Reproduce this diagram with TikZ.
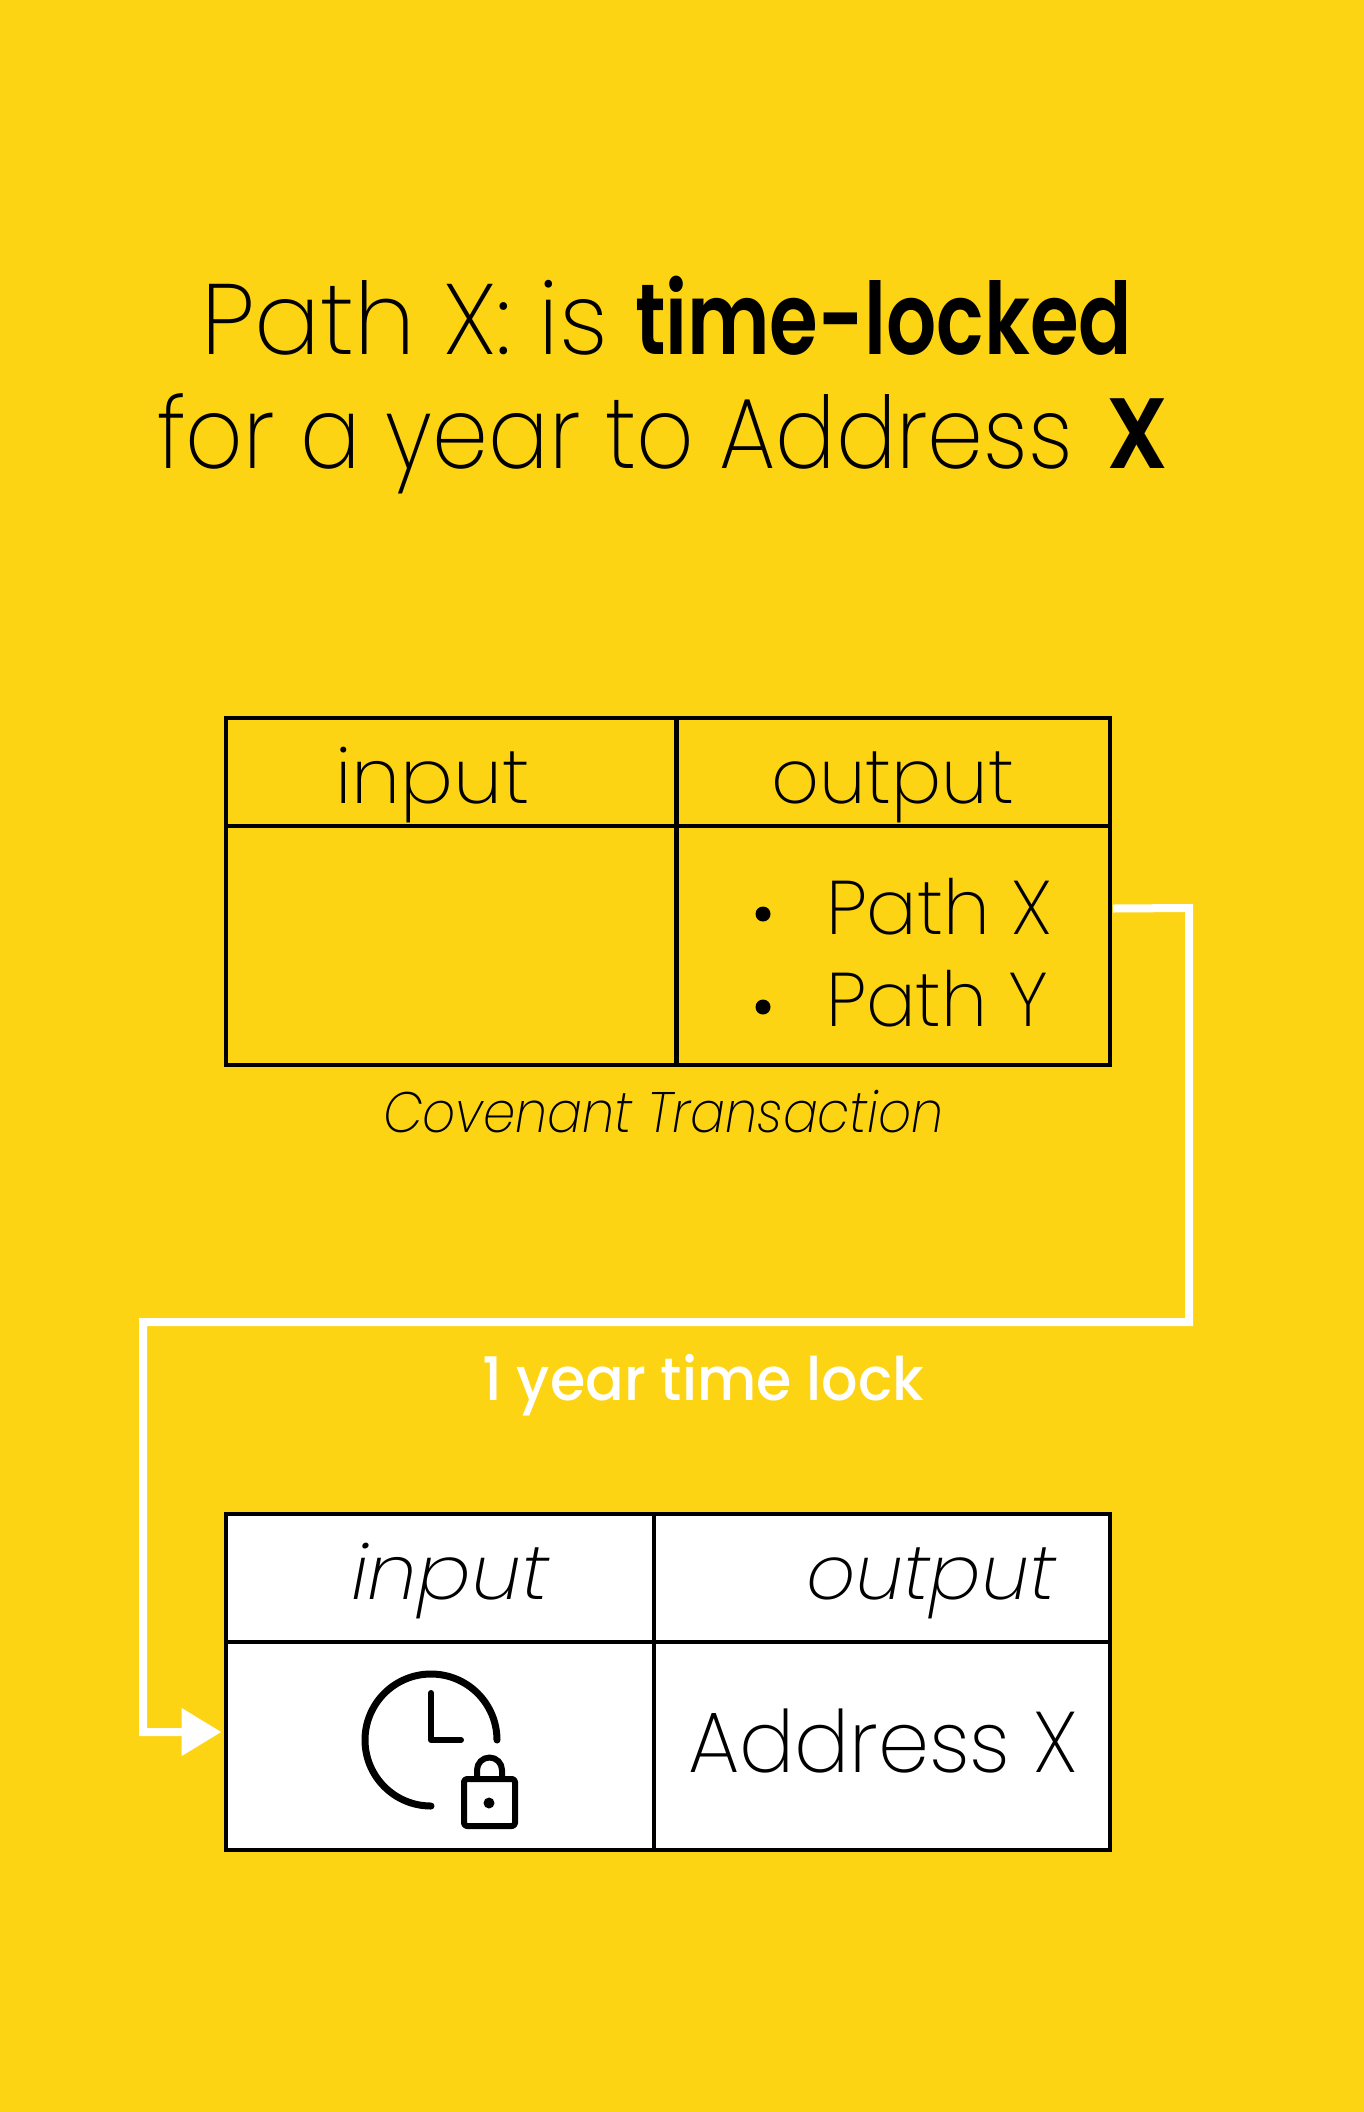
\documentclass[tikz,border=0pt]{standalone}
\usepackage{fontspec}
\usepackage{graphicx}
\usetikzlibrary{arrows.meta}
\setmainfont{Poppins ExtraLight}[ItalicFont={Poppins ExtraLight Italic},BoldFont={Poppins SemiBold}]
\newfontfamily\medfont{Poppins Medium}
\definecolor{bgyellow}{HTML}{FCD414}
\newcommand{\fitx}[2]{\sbox0{#2}\scalebox{\fpeval{#1pt/\the\wd0}}[1]{\box0}}
\newcommand{\fs}[1]{\fontsize{#1pt}{#1pt}\selectfont}
\tikzset{
  x=1pt,y=-1pt,
  cell/.style={draw=black,line width=4pt,rectangle,inner sep=0pt,outer sep=0pt,anchor=north west},
  label/.style={anchor=base west,inner sep=0pt,outer sep=0pt,text=black},
  iconline/.style={draw=black,line cap=round,line join=round},
  link/.style={draw=white,line width=8pt,miter limit=10}
}
\begin{document}
\begin{tikzpicture}
\useasboundingbox (0,0) rectangle (1364,2112);
\fill[bgyellow] (0,0) rectangle (1364,2112);

% title
\node[label] (title1a) at (201,354) {\fitx{407}{\fs{100}Path X: is}};
\node[label] (title1b) at (635,354) {\fitx{497}{\fs{100}\bfseries time-locked}};
\node[label] (title2a) at (157,468) {\fitx{916}{\fs{100}for a year to Address}};
\node[label] (title2b) at (1106,468) {\fitx{62}{\fs{100}\bfseries X}};

% upper table
\node[cell,minimum width=451pt,minimum height=108pt] (ihead) at (225.5,718) {};
\node[cell,minimum width=434pt,minimum height=108pt] (ohead) at (676,718) {};
\node[cell,minimum width=451pt,minimum height=239pt] (ibody) at (225.5,826) {};
\node[cell,minimum width=434pt,minimum height=239pt] (obody) at (676,826) {};
\node[label] (tinput) at (335,803) {\fitx{195}{\fs{76}input}};
\node[label] (toutput) at (771,803) {\fitx{243}{\fs{76}output}};
\fill[black] (763,914) circle[radius=7.5] (763,1007) circle[radius=7.5];
\node[label] (pathx) at (826,934) {\fitx{226}{\fs{76}Path X}};
\node[label] (pathy) at (826,1026) {\fitx{222}{\fs{76}Path Y}};
\node[label] (cov) at (383,1132) {\fitx{561}{\fs{57}\itshape Covenant Transaction}};

% lower table
\node[cell,fill=white,minimum width=428pt,minimum height=128pt] (ihead2) at (225.5,1514) {};
\node[cell,fill=white,minimum width=456.5pt,minimum height=128pt] (ohead2) at (653.5,1514) {};
\node[cell,fill=white,minimum width=428pt,minimum height=208pt] (ibody2) at (225.5,1642) {};
\node[cell,fill=white,minimum width=456.5pt,minimum height=208pt] (obody2) at (653.5,1642) {};
\node[label] (binput) at (351,1599) {\fitx{198}{\fs{76}\itshape input}};
\node[label] (boutput) at (806,1599) {\fitx{250}{\fs{76}\itshape output}};
\node[label] (addr) at (688,1772) {\fitx{390}{\fs{86}Address X}};

% clock with lock
\draw[iconline,line width=7pt] (497,1740) arc[start angle=0,end angle=-270,radius=66];
\draw[iconline,line width=6pt] (431,1693) -- (431,1740) -- (461,1740);
\draw[iconline,line width=6pt] (477,1779) -- (477,1770) arc[start angle=180,end angle=360,radius=12.5] -- (502,1779);
\draw[iconline,line width=6pt,rounded corners=3pt] (464,1779) rectangle (515,1826);
\fill[black] (489,1803) circle[radius=5.5];

% connector
\coordinate (linkstart) at ([shift={(3pt,37pt)}]obody.east);
\coordinate (linkend) at ([shift={(-4pt,14pt)}]ibody2.west);
\draw[link,-{Triangle[length=40pt,width=46pt]}] (linkstart) -- (1189,908) -- (1189,1322) -- (143,1322) -- (143,1732) -- (linkend);
\node[label,text=white] (lockl) at (482,1400) {\fitx{442}{\medfont\fs{60}1 year time lock}};
\end{tikzpicture}
\end{document}
